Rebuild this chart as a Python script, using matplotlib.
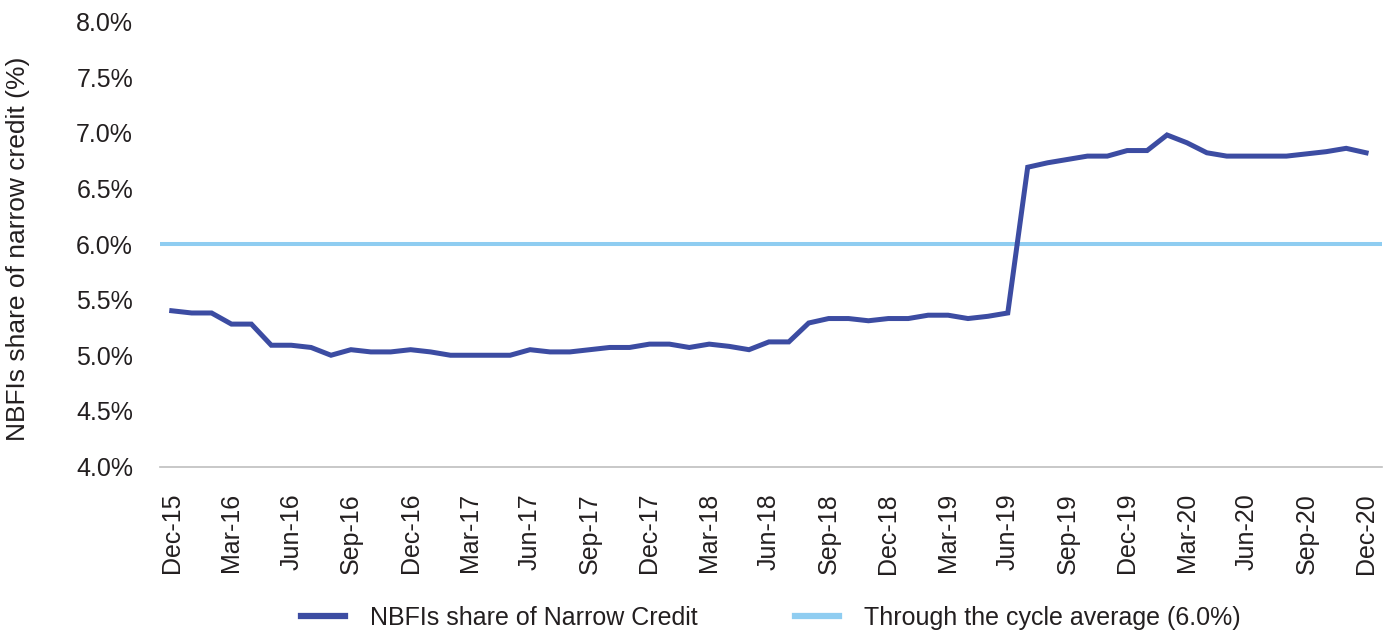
import numpy as np
import matplotlib.pyplot as plt
from matplotlib.ticker import FuncFormatter

plt.rcParams["font.family"] = ["Liberation Sans", "DejaVu Sans"]

# monthly, Dec-15 .. Dec-20
start_year, start_month = 2015, 12
MONTH_NAMES = ["Jan", "Feb", "Mar", "Apr", "May", "Jun",
               "Jul", "Aug", "Sep", "Oct", "Nov", "Dec"]

nbfi_share = [
    5.40, 5.38, 5.38, 5.28, 5.28, 5.09, 5.09, 5.07, 5.00, 5.05,   # Dec-15 .. Sep-16
    5.03, 5.03, 5.05, 5.03, 5.00, 5.00, 5.00, 5.00, 5.05, 5.03,   # Oct-16 .. Jul-17
    5.03, 5.05, 5.07, 5.07, 5.10, 5.10, 5.07, 5.10, 5.08, 5.05,   # Aug-17 .. May-18
    5.12, 5.12, 5.29, 5.33, 5.33, 5.31, 5.33, 5.33, 5.36, 5.36,   # Jun-18 .. Mar-19
    5.33, 5.35, 5.38, 6.69, 6.73, 6.76, 6.79, 6.79, 6.84, 6.84,   # Apr-19 .. Jan-20
    6.98, 6.91, 6.82, 6.79, 6.79, 6.79, 6.79, 6.81, 6.83, 6.86,   # Feb-20 .. Nov-20
    6.82,                                                         # Dec-20
]
cycle_average = 6.0

labels = []
for i in range(len(nbfi_share)):
    m = (start_month - 1 + i) % 12
    y = start_year + (start_month - 1 + i) // 12
    labels.append(f"{MONTH_NAMES[m]}-{y % 100:02d}")

DARK  = "#3C4CA2"
LIGHT = "#8FCDF1"
TEXT  = "#231F20"

fig = plt.figure(figsize=(13.87, 6.31), dpi=100)
ax = fig.add_axes([160 / 1387, 164.5 / 631, 1222 / 1387, 445 / 631])

x = np.arange(len(nbfi_share))
ax.axhline(cycle_average, color=LIGHT, lw=2.9, label="Through the cycle average (6.0%)", zorder=2)
ax.plot(x, nbfi_share, color=DARK, lw=3.6, solid_joinstyle="miter",
        label="NBFIs share of Narrow Credit", zorder=3)

ax.set_xlim(-0.59, 60.8)
ax.set_ylim(4.0, 8.0)
ax.set_yticks(np.arange(4.0, 8.01, 0.5))
ax.yaxis.set_major_formatter(FuncFormatter(lambda v, _: f"{v:.1f}%"))
ax.set_xticks(x[::3])
ax.set_xticklabels(labels[::3], rotation=90)

ax.tick_params(axis="both", length=0, labelsize=18, colors=TEXT)
ax.tick_params(axis="y", pad=19.4)
ax.tick_params(axis="x", pad=19)

for side in ["top", "right", "left"]:
    ax.spines[side].set_visible(False)
ax.spines["bottom"].set_color("#BFBFBF")
ax.spines["bottom"].set_linewidth(1.2)

ax.set_ylabel("NBFIs share of narrow credit (%)", fontsize=19, color=TEXT)
ax.yaxis.set_label_coords(-0.1064, 0.49)

handles, leg_labels = ax.get_legend_handles_labels()
leg = ax.legend(handles[::-1], leg_labels[::-1], loc="center", bbox_to_anchor=(0.5, -0.34),
                ncol=2, frameon=False, fontsize=18, handlelength=1.75,
                handletextpad=1.0, columnspacing=3.9)
for t in leg.get_texts():
    t.set_color(TEXT)
for h in leg.get_lines():
    h.set_linewidth(4.5)

plt.savefig("out.png", dpi=100)
plt.close()
